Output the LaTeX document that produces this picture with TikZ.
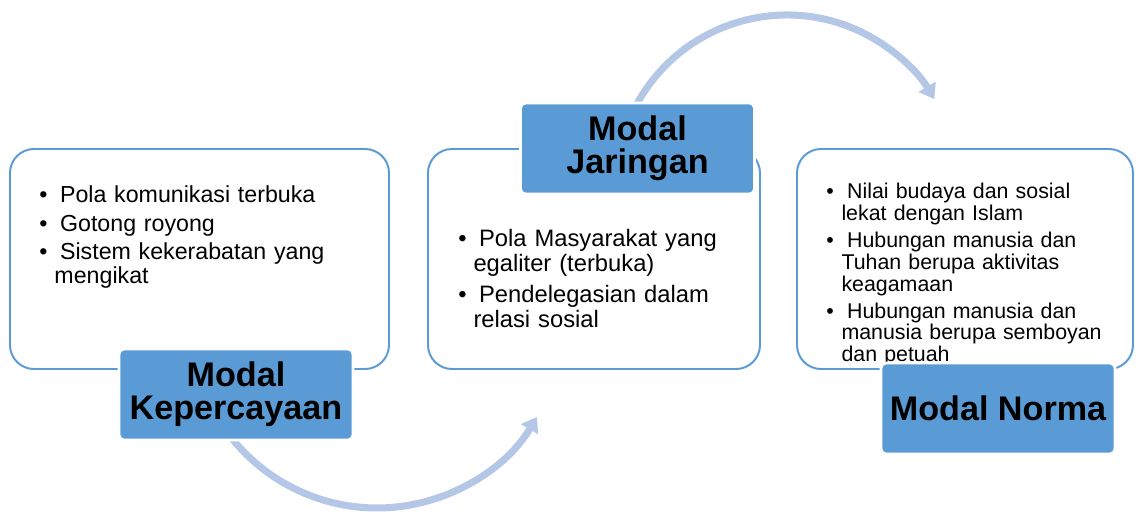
\documentclass[tikz,border=0pt]{standalone}
\usepackage{fontspec}
\setmainfont{Liberation Sans}
\usetikzlibrary{arrows.meta}

\definecolor{tblue}{HTML}{5B9BD5}
\definecolor{lblue}{HTML}{B4C7E7}

\newcommand{\bul}{\hangindent=0.38cm\hangafter=1\makebox[0.52cm][l]{\textbullet}}
\newcommand{\listsetup}{\setlength{\parindent}{0pt}\setlength{\parskip}{4pt}}

\tikzstyle{box} = [rectangle, rounded corners=0.6cm, minimum height=5.5cm, draw=tblue, line width=1.4pt, fill=none]
\tikzstyle{title} = [rectangle, rounded corners=0.125cm, minimum width=5.85cm, minimum height=2.275cm, text centered, align=center, fill=tblue, draw=white, line width=2pt, font=\fontsize{24.3}{23.5}\selectfont\bfseries]
\tikzstyle{list} = [anchor=north west, inner sep=0pt, align=left, execute at begin node=\listsetup]
\tikzstyle{flow} = [line width=5pt, draw=lblue, -{Triangle[width=0.48cm,length=0.36cm]}]

\begin{document}
\begin{tikzpicture}[node distance=3.5cm]
        \useasboundingbox (0,0) rectangle (28.45,-12.9);

        \node (Trust Box) [box, minimum width=9.475cm] at (4.9875,-6.475) {};
        \node (Network Box) [box, minimum width=8.3cm, right of = Trust Box, xshift = 6.3625cm] {};
        \node (Norm Box) [box, minimum width=8.4cm, right of = Network Box, xshift = 5.775cm] {};

        \coordinate (Trust Arc) at ([xshift=0.7725cm, yshift=-1.6625cm]Trust Box.south);
        \coordinate (Network Arc) at ([xshift=1.05cm, yshift=1.0575cm]Network Box.north);
        \draw [flow] (Trust Arc) arc [start angle=218, end angle=329.3, radius=4.65cm];
        \draw [flow] (Network Arc) arc [start angle=152, end angle=30.5, radius=4.275cm];

        \node (Trust List) [list, text width=8.5cm, font=\fontsize{16.5}{16.4}\selectfont] at ([xshift=0.75cm, yshift=-0.9375cm]Trust Box.north west) {\bul Pola komunikasi terbuka\par \bul Gotong royong\par \bul Sistem kekerabatan yang\newline mengikat\par};
        \node (Network List) [list, text width=7.5cm, font=\fontsize{16.9}{17.8}\selectfont] at ([xshift=0.775cm, yshift=-2.025cm]Network Box.north west) {\bul Pola Masyarakat yang\newline egaliter (terbuka)\par \bul Pendelegasian dalam\newline relasi sosial\par};
        \node (Norm List) [list, text width=7.4cm, font=\fontsize{15.2}{15.4}\selectfont] at ([xshift=0.75cm, yshift=-0.875cm]Norm Box.north west) {\bul Nilai budaya dan sosial\newline lekat dengan Islam\par \bul Hubungan manusia dan\newline Tuhan berupa aktivitas\newline keagamaan\par \bul Hubungan manusia dan\newline manusia berupa semboyan\newline dan petuah\par};

        \node (Trust) [title, below of = Trust Box, xshift = 0.9125cm, yshift = 0.1125cm] {Modal\\Kepercayaan};
        \node (Network) [title, above of = Network Box, xshift = 1.0875cm, yshift = -0.7375cm] {Modal\\Jaringan};
        \node (Norm) [title, below of = Norm Box, xshift = 0.825cm, yshift = -0.2375cm] {Modal Norma};
    \end{tikzpicture}
\end{document}
